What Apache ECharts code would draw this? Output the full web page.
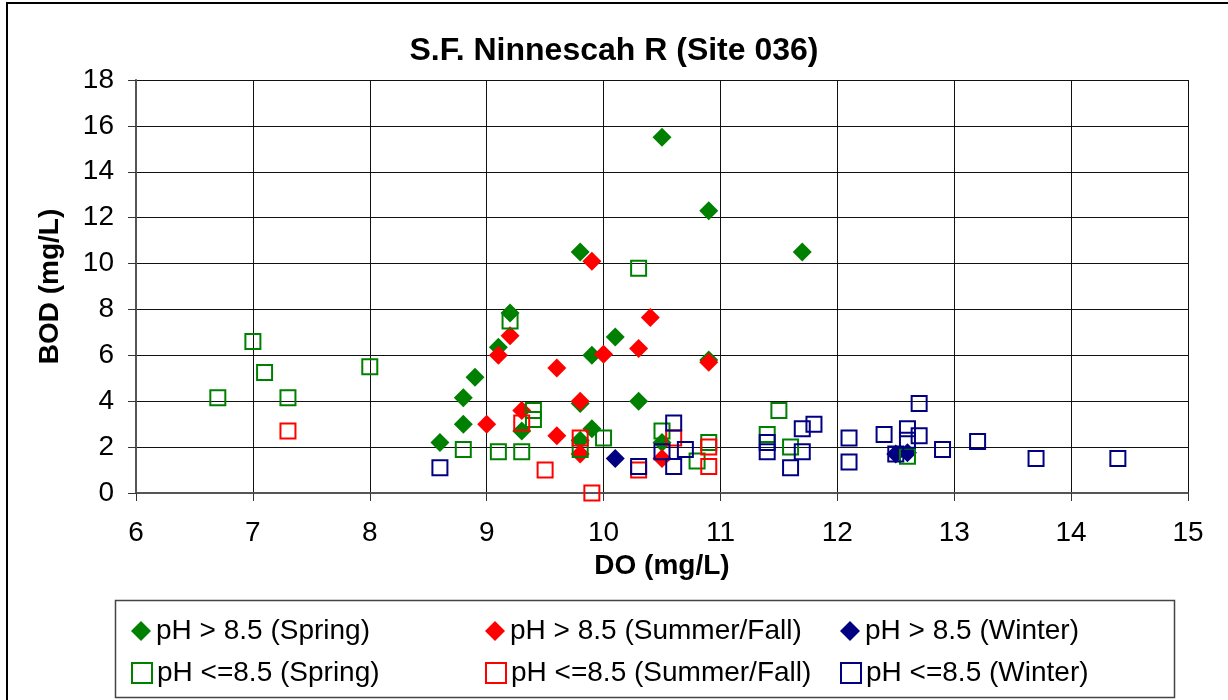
<!DOCTYPE html>
<html>
<head>
<meta charset="utf-8">
<title>S.F. Ninnescah R (Site 036)</title>
<script src="https://cdn.jsdelivr.net/npm/echarts@6/dist/echarts.min.js"></script>
<style>
  html, body { margin: 0; padding: 0; background: #fff; }
  #main { width: 1228px; height: 700px; }
</style>
</head>
<body>
<div id="main"></div>
<script>
// [DO, BOD] pairs
var springHigh = [[8.6, 2.2], [8.8, 3.0], [8.8, 4.15], [8.9, 5.05], [9.1, 6.35], [9.2, 7.85], [9.3, 2.7],
  [9.8, 10.5], [9.8, 3.9], [9.8, 2.3], [9.9, 6.0], [9.9, 2.8], [10.1, 6.8], [10.3, 4.0], [10.5, 15.5],
  [10.5, 2.2], [10.9, 12.3], [10.9, 5.8], [11.7, 10.5]]
var summerHigh = [[9.0, 3.0], [9.1, 6.0], [9.2, 6.85], [9.3, 3.6], [9.6, 5.45], [9.6, 2.5], [9.8, 4.0],
  [9.8, 1.7], [9.9, 10.1], [10.0, 6.05], [10.3, 6.3], [10.4, 7.65], [10.5, 1.5], [10.9, 5.7]]
var winterHigh = [[10.1, 1.5], [12.5, 1.7], [12.6, 1.75]]
var springLow = [[6.7, 4.15], [7.0, 6.6], [7.1, 5.25], [7.3, 4.15], [8.0, 5.5], [8.8, 1.9], [9.1, 1.8],
  [9.2, 7.5], [9.3, 1.8], [9.4, 3.6], [9.4, 3.2], [9.8, 1.9], [10.0, 2.4], [10.3, 9.8], [10.5, 2.7],
  [10.8, 1.4], [10.9, 2.2], [11.4, 2.55], [11.5, 3.6], [11.6, 2.0], [12.6, 1.6]]
var summerLow = [[7.3, 2.7], [9.3, 3.05], [9.5, 1.0], [9.8, 2.4], [9.9, 0.0], [10.3, 1.0], [10.6, 2.4],
  [10.9, 2.0], [10.9, 1.15]]
var winterLow = [[8.6, 1.1], [10.3, 1.15], [10.5, 1.8], [10.6, 3.05], [10.6, 1.15], [10.7, 1.9], [11.4, 2.2],
  [11.4, 1.8], [11.6, 1.1], [11.7, 2.8], [11.7, 1.8], [11.8, 3.0], [12.1, 2.4], [12.1, 1.35], [12.4, 2.55],
  [12.5, 1.7], [12.6, 2.8], [12.6, 2.3], [12.7, 3.9], [12.7, 2.5], [12.9, 1.9], [13.2, 2.25], [13.7, 1.5],
  [14.4, 1.5]]

var seriesNames = ['pH > 8.5 (Spring)', 'pH > 8.5 (Summer/Fall)', 'pH > 8.5 (Winter)',
  'pH <=8.5 (Spring)', 'pH <=8.5 (Summer/Fall)', 'pH <=8.5 (Winter)']
var xTicks = [6, 15, 1]
var yTicks = [0, 18, 2]

var FONT = '"Liberation Sans", Arial, sans-serif'
var GREEN = '#008000'
var RED = '#ff0000'
var NAVY = '#000080'

function filled(name, color, data) {
  return {
    name: name,
    type: 'scatter',
    symbol: 'diamond',
    symbolSize: 19,
    itemStyle: { color: color, opacity: 1 },
    emphasis: { disabled: true },
    data: data
  }
}

function hollow(name, color, data) {
  return {
    name: name,
    type: 'scatter',
    symbol: 'rect',
    symbolSize: 15,
    itemStyle: { color: 'rgba(255,255,255,0)', borderColor: color, borderWidth: 2, opacity: 1 },
    emphasis: { disabled: true },
    data: data
  }
}

// one legend per item so the columns line up like the original
var legendPos = [
  [126, 612], [480, 612], [835, 612],
  [126, 654], [480, 654], [835, 654]
]
var legends = seriesNames.map(function(n, i) {
  return {
    data: [n],
    left: legendPos[i][0],
    top: legendPos[i][1],
    itemWidth: 20,
    itemHeight: 20,
    selectedMode: false,
    textStyle: { fontFamily: FONT, fontSize: 28, color: '#000' }
  }
})

var myChart = echarts.init(document.getElementById('main'))
var option = {
  backgroundColor: '#fff',
  animation: false,
  title: {
    text: 'S.F. Ninnescah R (Site 036)',
    left: 'center',
    top: 30,
    textStyle: { fontFamily: FONT, fontSize: 32, fontWeight: 'bold', color: '#000' }
  },
  legend: legends,
  grid: { left: 136, top: 80, width: 1052, height: 413, containLabel: false },
  xAxis: {
    type: 'value',
    min: xTicks[0],
    max: xTicks[1],
    interval: xTicks[2],
    name: 'DO (mg/L)',
    nameLocation: 'middle',
    nameGap: 59,
    nameTextStyle: { fontFamily: FONT, fontSize: 28, fontWeight: 'bold', color: '#000' },
    axisLine: { onZero: false, lineStyle: { color: '#555', width: 2 } },
    axisTick: { show: true, inside: false, length: 8, lineStyle: { color: '#333' } },
    axisLabel: { margin: 26, fontFamily: FONT, fontSize: 28, color: '#000' },
    splitLine: { show: true, lineStyle: { color: '#111', width: 1 } }
  },
  yAxis: {
    type: 'value',
    min: yTicks[0],
    max: yTicks[1],
    interval: yTicks[2],
    name: 'BOD (mg/L)',
    nameLocation: 'middle',
    nameGap: 72,
    nameTextStyle: { fontFamily: FONT, fontSize: 28, fontWeight: 'bold', color: '#000' },
    axisLine: { onZero: false, lineStyle: { color: '#555', width: 2 } },
    axisTick: { show: true, inside: false, length: 8, lineStyle: { color: '#333' } },
    axisLabel: { margin: 22, fontFamily: FONT, fontSize: 28, color: '#000' },
    splitLine: { show: true, lineStyle: { color: '#111', width: 1 } }
  },
  graphic: [
    {
      type: 'rect',
      silent: true,
      shape: { x: 7, y: 3, width: 1240, height: 720 },
      style: { fill: 'none', stroke: '#000', lineWidth: 2 }
    },
    {
      type: 'rect',
      silent: true,
      shape: { x: 115.5, y: 600.5, width: 1059, height: 97 },
      style: { fill: 'none', stroke: '#444', lineWidth: 1.5 }
    }
  ],
  series: [
    filled(seriesNames[0], GREEN, springHigh),
    filled(seriesNames[1], RED, summerHigh),
    filled(seriesNames[2], NAVY, winterHigh),
    hollow(seriesNames[3], GREEN, springLow),
    hollow(seriesNames[4], RED, summerLow),
    hollow(seriesNames[5], NAVY, winterLow)
  ]
}
myChart.setOption(option)
</script>
</body>
</html>
